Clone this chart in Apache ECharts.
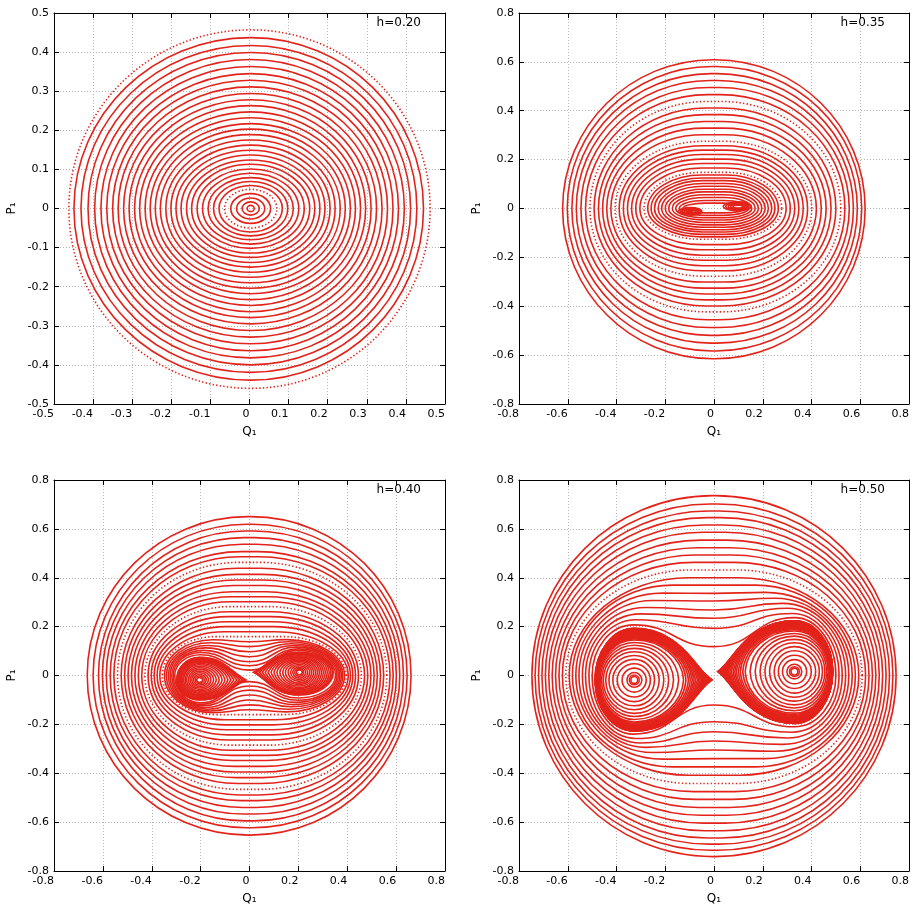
<!DOCTYPE html>
<html><head><meta charset="utf-8">
<script src="https://cdn.jsdelivr.net/npm/echarts@6.0.0/dist/echarts.min.js"></script>
<style>html,body{margin:0;padding:0;background:#fff}#c{width:913px;height:908px}</style>
</head><body><div id="c"></div>
<script>
// ---------------- DATA ----------------
const hLabels = ['h=0.20', 'h=0.35', 'h=0.40', 'h=0.50'];
const xName = 'Q₁', yName = 'P₁';

// Panel 1 (h=0.20): rings, inner -> outer; extremes on each side
const p1Right  = [0.012,0.025,0.039,0.054,0.070,0.084,0.098,0.112,0.126,0.140,0.154,0.167,0.180,0.193,0.206,0.219,0.232,0.245,0.258,0.271,0.284,0.297,0.311,0.325,0.339,0.353,0.367,0.381,0.396,0.412,0.428,0.445,0.462];
const p1Left   = [-0.006,-0.019,-0.033,-0.048,-0.064,-0.078,-0.092,-0.106,-0.120,-0.134,-0.148,-0.161,-0.175,-0.188,-0.201,-0.214,-0.228,-0.241,-0.254,-0.267,-0.281,-0.294,-0.308,-0.322,-0.336,-0.350,-0.365,-0.380,-0.396,-0.413,-0.431,-0.449,-0.462];
const p1Top    = [0.008,0.017,0.027,0.038,0.049,0.059,0.069,0.079,0.090,0.101,0.113,0.124,0.137,0.149,0.162,0.175,0.189,0.203,0.217,0.232,0.247,0.263,0.278,0.294,0.311,0.328,0.345,0.363,0.381,0.399,0.417,0.437,0.457];
const p1Bottom = [-0.008,-0.017,-0.027,-0.038,-0.050,-0.060,-0.070,-0.080,-0.091,-0.102,-0.114,-0.125,-0.138,-0.150,-0.163,-0.176,-0.190,-0.204,-0.218,-0.233,-0.248,-0.264,-0.279,-0.295,-0.312,-0.329,-0.346,-0.364,-0.382,-0.400,-0.419,-0.439,-0.460];
const p1Broken = [4, 32];
const p1Center = [0.003, 0];

// Panel 2 (h=0.35)
const p2Right  = [0.128,0.142,0.155,0.169,0.182,0.196,0.210,0.223,0.237,0.250,0.264,0.278,0.296,0.313,0.331,0.348,0.366,0.384,0.401,0.420,0.440,0.460,0.480,0.500,0.520,0.537,0.555,0.572,0.588,0.606,0.620];
const p2Left   = [-0.128,-0.142,-0.157,-0.171,-0.186,-0.200,-0.215,-0.229,-0.244,-0.258,-0.272,-0.287,-0.304,-0.321,-0.338,-0.355,-0.372,-0.389,-0.406,-0.423,-0.440,-0.457,-0.474,-0.492,-0.509,-0.527,-0.546,-0.565,-0.583,-0.602,-0.621];
const p2Top    = [0.022,0.033,0.045,0.056,0.068,0.079,0.091,0.102,0.114,0.125,0.137,0.148,0.166,0.184,0.202,0.221,0.239,0.257,0.275,0.302,0.329,0.356,0.384,0.411,0.438,0.466,0.495,0.524,0.552,0.581,0.609];
const p2Bottom = [-0.018,-0.028,-0.038,-0.047,-0.057,-0.067,-0.077,-0.087,-0.096,-0.106,-0.116,-0.126,-0.148,-0.169,-0.191,-0.212,-0.234,-0.255,-0.277,-0.301,-0.326,-0.350,-0.374,-0.399,-0.423,-0.455,-0.487,-0.519,-0.551,-0.583,-0.615];
const p2Broken = [11, 18, 24];
const p2Center = [0, 0];
const p2IslandLeftC  = [-0.094, -0.012];
const p2IslandLeft   = [[0.020,0.020,0.005,0.005],[0.028,0.026,0.008,0.008],[0.036,0.032,0.011,0.011],[0.044,0.038,0.014,0.013],[0.052,0.044,0.016,0.015]];
const p2IslandRightC = [0.100, 0.008];
const p2IslandRight  = [[0.022,0.020,0.006,0.006],[0.032,0.028,0.009,0.008],[0.042,0.036,0.012,0.011],[0.052,0.044,0.016,0.014],[0.062,0.052,0.019,0.017]];

// Panel 3 (h=0.40)
const p3Right  = [0.352,0.358,0.364,0.370,0.376,0.382,0.389,0.396,0.404,0.413,0.423,0.434,0.446,0.458,0.471,0.484,0.497,0.510,0.523,0.536,0.549,0.562,0.575,0.588,0.601,0.615,0.630,0.645,0.661];
const p3Left   = [-0.306,-0.312,-0.318,-0.325,-0.332,-0.340,-0.348,-0.357,-0.367,-0.378,-0.390,-0.402,-0.415,-0.428,-0.441,-0.455,-0.469,-0.483,-0.497,-0.511,-0.525,-0.540,-0.555,-0.570,-0.586,-0.602,-0.618,-0.640,-0.664];
const p3TopMid = [0.022,0.040,0.056,0.077,0.097,0.118,0.138,0.159,0.179,0.200,0.220,0.241,0.261,0.282,0.302,0.322,0.343,0.368,0.391,0.414,0.439,0.463,0.486,0.507,0.537,0.564,0.591,0.619,0.650];
const p3BotMid = [-0.025,-0.043,-0.060,-0.080,-0.100,-0.120,-0.140,-0.160,-0.181,-0.202,-0.222,-0.243,-0.264,-0.285,-0.306,-0.327,-0.348,-0.372,-0.395,-0.418,-0.442,-0.466,-0.489,-0.512,-0.540,-0.567,-0.595,-0.623,-0.653];
const p3LobeX    = [0.20,0.20,0.19,0.18,0.17,0.16,0.15,0.14];
const p3TopLobeL = [0.085,0.094,0.103,0.113,0.123,0.134,0.146,0.159];
const p3TopLobeR = [0.103,0.109,0.116,0.123,0.130,0.138,0.147,0.159];
const p3BotLobeL = [-0.112,-0.118,-0.124,-0.131,-0.138,-0.145,-0.152,-0.160];
const p3BotLobeR = [-0.092,-0.101,-0.110,-0.119,-0.128,-0.138,-0.149,-0.160];
const p3Broken = [7, 13, 21];
const p3Center = [0, 0];
const p3IslandLeftC = [-0.204, -0.018];
const p3IslandLeft = [[0.012,0.012,0.010,0.010],[0.018,0.019,0.016,0.015],[0.025,0.027,0.022,0.021],[0.032,0.036,0.029,0.027],[0.039,0.046,0.036,0.033],[0.046,0.057,0.043,0.039],[0.053,0.068,0.050,0.045],[0.059,0.080,0.056,0.050],[0.065,0.092,0.062,0.055],[0.070,0.104,0.067,0.060],[0.075,0.116,0.072,0.064],[0.079,0.128,0.076,0.068],[0.083,0.140,0.080,0.072],[0.086,0.152,0.084,0.075],[0.089,0.163,0.087,0.078],[0.091,0.174,0.089,0.080],[0.093,0.183,0.091,0.081],[0.094,0.190,0.092,0.082]];
const p3IslandRightC = [0.204, 0.013];
const p3IslandRight = [[0.012,0.012,0.010,0.010],[0.019,0.018,0.015,0.016],[0.027,0.026,0.021,0.023],[0.036,0.034,0.027,0.030],[0.046,0.042,0.033,0.037],[0.057,0.050,0.039,0.044],[0.068,0.058,0.045,0.050],[0.080,0.066,0.050,0.056],[0.092,0.074,0.055,0.062],[0.104,0.082,0.060,0.067],[0.116,0.090,0.064,0.072],[0.128,0.098,0.068,0.077],[0.140,0.106,0.072,0.081],[0.152,0.114,0.075,0.085],[0.163,0.122,0.078,0.088],[0.174,0.129,0.080,0.090],[0.183,0.135,0.081,0.092],[0.188,0.139,0.082,0.093]];

// Panel 4 (h=0.50)
const p4Right  = [0.500,0.513,0.526,0.540,0.553,0.567,0.580,0.594,0.608,0.622,0.636,0.650,0.664,0.678,0.692,0.706,0.720,0.734,0.747];
const p4Left   = [-0.500,-0.513,-0.527,-0.540,-0.554,-0.567,-0.581,-0.594,-0.608,-0.622,-0.636,-0.650,-0.664,-0.678,-0.692,-0.706,-0.720,-0.734,-0.747];
const p4TopMid = [0.118,0.193,0.234,0.268,0.305,0.336,0.370,0.400,0.432,0.463,0.493,0.523,0.554,0.586,0.616,0.646,0.673,0.702,0.736];
const p4BotMid = [-0.121,-0.189,-0.230,-0.268,-0.305,-0.340,-0.374,-0.408,-0.442,-0.475,-0.507,-0.540,-0.572,-0.604,-0.635,-0.665,-0.690,-0.715,-0.741];
const p4LobeX    = [0.33,0.32,0.30,0.28,0.25,0.21,0.17];
const p4TopLobeL = [0.207,0.228,0.252,0.278,0.307,0.337,0.370];
const p4TopLobeR = [0.237,0.254,0.275,0.295,0.316,0.340,0.370];
const p4BotLobeL = [-0.240,-0.258,-0.276,-0.294,-0.315,-0.342,-0.374];
const p4BotLobeR = [-0.210,-0.232,-0.256,-0.282,-0.310,-0.340,-0.374];
const p4Broken = [8];
const p4Center = [0, 0];
const p4IslandLeftC = [-0.327, -0.018];
const p4IslandLeft = [[0.014,0.014,0.014,0.014],[0.020,0.020,0.020,0.020],[0.030,0.031,0.030,0.030],[0.050,0.049,0.048,0.050],[0.070,0.066,0.066,0.070],[0.088,0.083,0.084,0.089],[0.104,0.102,0.100,0.106],[0.117,0.121,0.115,0.122],[0.127,0.141,0.129,0.137],[0.134,0.161,0.142,0.150],[0.140,0.182,0.153,0.162],[0.144,0.202,0.163,0.172],[0.146,0.212,0.168,0.177],[0.148,0.222,0.172,0.181],[0.150,0.230,0.176,0.185],[0.151,0.238,0.179,0.188],[0.152,0.245,0.182,0.191],[0.153,0.252,0.185,0.193],[0.154,0.259,0.188,0.195],[0.155,0.265,0.190,0.197],[0.156,0.271,0.193,0.199],[0.156,0.276,0.195,0.200],[0.157,0.281,0.197,0.202],[0.157,0.286,0.199,0.203],[0.158,0.291,0.201,0.204],[0.158,0.295,0.202,0.205],[0.159,0.299,0.204,0.206],[0.159,0.303,0.205,0.207],[0.160,0.307,0.207,0.208],[0.160,0.310,0.208,0.208],[0.160,0.313,0.209,0.209],[0.160,0.316,0.210,0.209],[0.161,0.318,0.211,0.209],[0.161,0.320,0.211,0.209]];
const p4IslandRightC = [0.330, 0.016];
const p4IslandRight = [[0.014,0.014,0.014,0.014],[0.020,0.020,0.020,0.020],[0.031,0.030,0.030,0.030],[0.049,0.050,0.049,0.050],[0.066,0.069,0.067,0.069],[0.083,0.087,0.085,0.088],[0.102,0.102,0.102,0.105],[0.121,0.115,0.118,0.121],[0.141,0.125,0.132,0.136],[0.161,0.132,0.145,0.149],[0.182,0.138,0.156,0.160],[0.202,0.142,0.166,0.170],[0.212,0.144,0.171,0.175],[0.222,0.146,0.175,0.179],[0.230,0.148,0.179,0.183],[0.238,0.149,0.182,0.186],[0.245,0.150,0.185,0.189],[0.252,0.151,0.188,0.192],[0.259,0.152,0.191,0.195],[0.265,0.153,0.193,0.197],[0.271,0.154,0.195,0.199],[0.276,0.154,0.197,0.201],[0.281,0.155,0.199,0.203],[0.286,0.155,0.201,0.204],[0.291,0.156,0.203,0.206],[0.295,0.156,0.204,0.207],[0.299,0.156,0.205,0.208],[0.303,0.156,0.206,0.209],[0.306,0.157,0.207,0.210],[0.309,0.157,0.207,0.211],[0.311,0.157,0.208,0.211],[0.313,0.157,0.208,0.212],[0.314,0.157,0.208,0.212],[0.315,0.157,0.208,0.212]];

// ---------------- BUILD ----------------
const RED = '#e3231b';
const FONT = 'DejaVu Sans';
const K = 0.5523;
const LW = 1.6;

function ringRows(left, right, top, bot, center, flatK, broken, lobe) {
  const xc = center[0], yc = center[1];
  return right.map((xr, i) => {
    const xl = left[i], yt = top[i], yb = bot[i];
    let al, ar, ytl = yt, ytr = yt, ybl = yb, ybr = yb;
    if (lobe && i < lobe.x.length) {
      al = xc - lobe.x[i]; ar = xc + lobe.x[i];
      ytl = lobe.tl[i]; ytr = lobe.tr[i]; ybl = lobe.bl[i]; ybr = lobe.br[i];
    } else {
      const a = Math.max(0, (xr - xl) / 2 - (yt - yb) / 2) * flatK;
      al = xc - a; ar = xc + a;
    }
    const b = broken.indexOf(i) >= 0 ? 1 : 0;
    return [xl, xr, yb, yt, ytl, ytr, ybl, ybr, al, ar, xc, yc, b];
  });
}
function islandRows(center, rings, tip) {
  const n = rings.length;
  return rings.map((r, i) => [center[0], center[1], r[0], r[1], r[2], r[3], tip, tip ? Math.pow((i + 1) / n, 2.5) : 0]);
}

function pt(p) { return p[0].toFixed(2) + ' ' + p[1].toFixed(2); }
function cub(c1, c2, p) { return ' C' + pt(c1) + ' ' + pt(c2) + ' ' + pt(p); }
function quadCtrl(A, B, s) {
  const dx = B[0] - A[0], dy = B[1] - A[1];
  return [[A[0] + dx * 0.35 * s, A[1] + dy * (K * (1 - s) + 0.35 * s)], [B[0] - dx * K, B[1]]];
}
function goOut(A, B, s) { const c = quadCtrl(A, B, s); return cub(c[0], c[1], B); }
function goIn(B, A, s) { const c = quadCtrl(A, B, s); return cub(c[1], c[0], A); }
function sc(P0, P1) { const m = (P0[0] + P1[0]) / 2; return cub([m, P0[1]], [m, P1[1]], P1); }

function dashFor(b) { return b === 1 ? [1.4, 2.2] : null; }

function renderRing(params, api) {
  const v = i => api.value(i);
  const c = (x, y) => api.coord([x, y]);
  const R = c(v(1), v(11)), TR = c(v(9), v(5)), TM = c(v(10), v(3)), TL = c(v(8), v(4));
  const L = c(v(0), v(11)), BL = c(v(8), v(6)), BM = c(v(10), v(2)), BR = c(v(9), v(7));
  const d = 'M' + pt(R) + goOut(R, TR, 0) + sc(TR, TM) + sc(TM, TL) + goIn(TL, L, 0)
          + goOut(L, BL, 0) + sc(BL, BM) + sc(BM, BR) + goIn(BR, R, 0) + ' Z';
  return { type: 'path', shape: { pathData: d },
           style: { fill: 'none', stroke: RED, lineWidth: LW, lineDash: dashFor(v(12)) } };
}
function renderIsland(params, api) {
  const v = i => api.value(i);
  const c = (x, y) => api.coord([x, y]);
  const cx = v(0), cy = v(1), rl = v(2), rr = v(3), rt = v(4), rb = v(5), tip = v(6), s = v(7);
  const R = c(cx + rr, cy), T = c(cx, cy + rt), L = c(cx - rl, cy), B = c(cx, cy - rb);
  const sR = tip > 0 ? s : 0, sL = tip < 0 ? s : 0;
  const d = 'M' + pt(R) + goOut(R, T, sR) + goIn(T, L, sL) + goOut(L, B, sL) + goIn(B, R, sR) + ' Z';
  return { type: 'path', shape: { pathData: d },
           style: { fill: 'none', stroke: RED, lineWidth: LW } };
}

const panels = [
  { grid: { left: 54, top: 13, width: 391, height: 391 }, min: -0.5, max: 0.5, step: 0.1,
    rings: ringRows(p1Left, p1Right, p1Top, p1Bottom, p1Center, 0, p1Broken, null), islands: [] },
  { grid: { left: 519, top: 13, width: 390, height: 391 }, min: -0.8, max: 0.8, step: 0.2,
    rings: ringRows(p2Left, p2Right, p2Top, p2Bottom, p2Center, 0.35, p2Broken, null),
    islands: islandRows(p2IslandLeftC, p2IslandLeft, 0).concat(islandRows(p2IslandRightC, p2IslandRight, 0)) },
  { grid: { left: 54, top: 480, width: 391, height: 391 }, min: -0.8, max: 0.8, step: 0.2,
    rings: ringRows(p3Left, p3Right, p3TopMid, p3BotMid, p3Center, 0.5, p3Broken,
      { x: p3LobeX, tl: p3TopLobeL, tr: p3TopLobeR, bl: p3BotLobeL, br: p3BotLobeR }),
    islands: islandRows(p3IslandLeftC, p3IslandLeft, 1).concat(islandRows(p3IslandRightC, p3IslandRight, -1)) },
  { grid: { left: 519, top: 480, width: 390, height: 391 }, min: -0.8, max: 0.8, step: 0.2,
    rings: ringRows(p4Left, p4Right, p4TopMid, p4BotMid, p4Center, 0.55, p4Broken,
      { x: p4LobeX, tl: p4TopLobeL, tr: p4TopLobeR, bl: p4BotLobeL, br: p4BotLobeR }),
    islands: islandRows(p4IslandLeftC, p4IslandLeft, 1).concat(islandRows(p4IslandRightC, p4IslandRight, -1)) }
];

function fmt(v) { return Math.abs(v) < 1e-9 ? '0' : v.toFixed(1); }
const lineBlack = { show: true, onZero: false, lineStyle: { color: '#000', width: 1 } };
const tickIn = { show: true, inside: true, length: 5, lineStyle: { color: '#000', width: 1 } };
const gridLine = { show: true, lineStyle: { color: '#b5b5b5', width: 1, type: [1, 2] } };
const labelBase = { color: '#000', fontSize: 11, fontFamily: FONT, formatter: fmt, showMinLabel: true, showMaxLabel: true };
const nameStyle = { color: '#000', fontSize: 12, fontFamily: FONT };

const option = { animation: false, backgroundColor: '#fff', grid: [], xAxis: [], yAxis: [], series: [], graphic: [] };
panels.forEach((p, gi) => {
  option.grid.push(Object.assign({ containLabel: false, outerBoundsMode: 'none' }, p.grid));
  option.xAxis.push({ gridIndex: gi, type: 'value', min: p.min, max: p.max, interval: p.step, position: 'bottom',
    axisLine: lineBlack, axisTick: tickIn, splitLine: gridLine,
    axisLabel: Object.assign({ margin: 5, align: 'right' }, labelBase),
    name: xName, nameLocation: 'middle', nameGap: 22, nameTextStyle: nameStyle });
  option.xAxis.push({ gridIndex: gi, type: 'value', min: p.min, max: p.max, interval: p.step, position: 'top',
    axisLine: lineBlack, axisTick: tickIn, splitLine: { show: false }, axisLabel: { show: false } });
  option.yAxis.push({ gridIndex: gi, type: 'value', min: p.min, max: p.max, interval: p.step, position: 'left',
    axisLine: lineBlack, axisTick: tickIn, splitLine: gridLine,
    axisLabel: Object.assign({ margin: 5 }, labelBase),
    name: yName, nameLocation: 'middle', nameGap: 36, nameTextStyle: nameStyle });
  option.yAxis.push({ gridIndex: gi, type: 'value', min: p.min, max: p.max, interval: p.step, position: 'right',
    axisLine: lineBlack, axisTick: tickIn, splitLine: { show: false }, axisLabel: { show: false } });
  option.series.push({ type: 'custom', coordinateSystem: 'cartesian2d', xAxisIndex: gi * 2, yAxisIndex: gi * 2,
    renderItem: renderRing, data: p.rings, encode: { x: [0, 1], y: [2, 3] }, silent: true });
  if (p.islands.length) {
    option.series.push({ type: 'custom', coordinateSystem: 'cartesian2d', xAxisIndex: gi * 2, yAxisIndex: gi * 2,
      renderItem: renderIsland, data: p.islands, encode: { x: 0, y: 1 }, silent: true });
  }
  option.graphic.push({ type: 'text', x: p.grid.left + p.grid.width - 24, y: p.grid.top + 10,
    style: { text: hLabels[gi], fill: '#000', font: '12px "DejaVu Sans"', textAlign: 'right', textVerticalAlign: 'middle' } });
});

const chart = echarts.init(document.getElementById('c'), null, { renderer: 'canvas' });
chart.setOption(option);
</script></body></html>
